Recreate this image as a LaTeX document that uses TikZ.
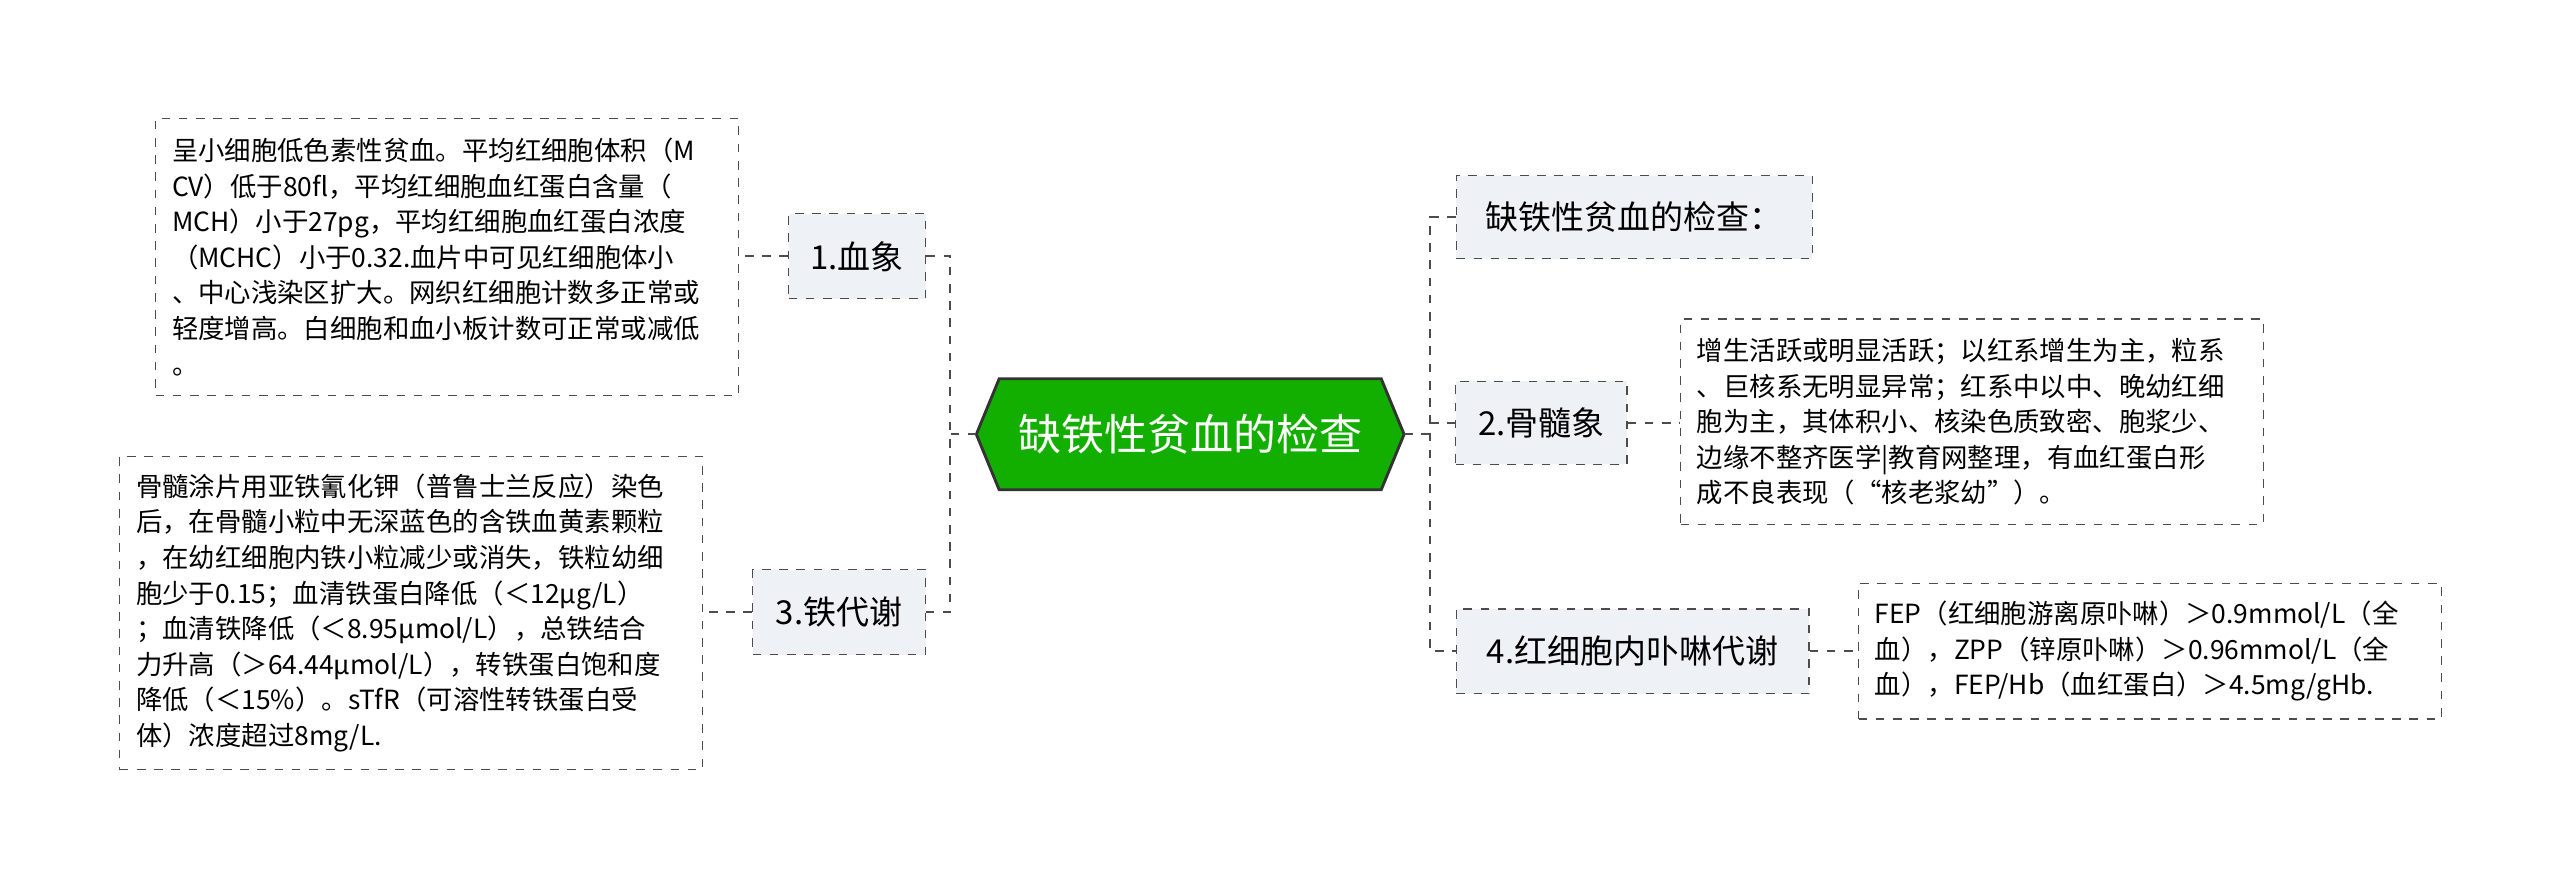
\documentclass[tikz,border=0pt]{standalone}
\usepackage{fontspec}
\setmainfont{Noto Sans CJK SC}
\definecolor{subfill}{HTML}{EEF1F5}
\begin{document}
\begin{tikzpicture}[x=0.02cm,y=-0.02cm,
  conn/.style={draw=black!70,dashed,line width=0.7pt},
  sub/.style={draw=black!70,dashed,fill=subfill,font=\fontsize{11.5}{14}\selectfont,inner sep=0pt,anchor=center},
  leaf/.style={draw=black!70,dashed,align=left,font=\fontsize{9.2}{12.4}\selectfont,inner xsep=0.2cm,inner ysep=0pt,text width=6.74cm,anchor=north west}]
\useasboundingbox (0,0) rectangle (1568,544);
\fill[white] (0,0) rectangle (1568,544);
% center
\draw[fill=green!65!black!90!lime,draw=black!80,line width=1pt] (598,266)--(612,232)--(846,232)--(860,266)--(846,300)--(612,300)--cycle;
\node[text=white,font=\fontsize{15}{18}\selectfont] (c) at (729,266) {缺铁性贫血的检查};
\coordinate (cl) at (598,266); \coordinate (cr) at (860,266);
% subnodes
\node[sub,minimum width=84*0.02cm,minimum height=52*0.02cm] (n1) at (525,157) {1.血象};
\node[sub,minimum width=106*0.02cm,minimum height=52*0.02cm] (n3) at (514,375) {3.铁代谢};
\node[sub,minimum width=218*0.02cm,minimum height=51*0.02cm] (r0) at (1001,133) {缺铁性贫血的检查：};
\node[sub,minimum width=105*0.02cm,minimum height=51*0.02cm] (n2) at (944,259) {2.骨髓象};
\node[sub,minimum width=216*0.02cm,minimum height=52*0.02cm] (n4) at (1000,399) {4.红细胞内卟啉代谢};
% leaves
\node[leaf,minimum height=170*0.02cm] (t1) at (95,72) {呈小细胞低色素性贫血。平均红细胞体积（M\\CV）低于80fl，平均红细胞血红蛋白含量（\\MCH）小于27pg，平均红细胞血红蛋白浓度\\（MCHC）小于0.32.血片中可见红细胞体小\\、中心浅染区扩大。网织红细胞计数多正常或\\轻度增高。白细胞和血小板计数可正常或减低\\。};
\node[leaf,minimum height=192*0.02cm] (t3) at (73,279) {骨髓涂片用亚铁氰化钾（普鲁士兰反应）染色\\后，在骨髓小粒中无深蓝色的含铁血黄素颗粒\\，在幼红细胞内铁小粒减少或消失，铁粒幼细\\胞少于0.15；血清铁蛋白降低（＜12μg/L）\\；血清铁降低（＜8.95μmol/L），总铁结合\\力升高（＞64.44μmol/L），转铁蛋白饱和度\\降低（＜15\%）。sTfR（可溶性转铁蛋白受\\体）浓度超过8mg/L.};
\node[leaf,minimum height=126*0.02cm] (t2) at (1029,195) {增生活跃或明显活跃；以红系增生为主，粒系\\、巨核系无明显异常；红系中以中、晚幼红细\\胞为主，其体积小、核染色质致密、胞浆少、\\边缘不整齐医学|教育网整理，有血红蛋白形\\成不良表现（“核老浆幼”）。};
\node[leaf,minimum height=83*0.02cm] (t4) at (1138,357) {FEP（红细胞游离原卟啉）＞0.9mmol/L（全\\血），ZPP（锌原卟啉）＞0.96mmol/L（全\\血），FEP/Hb（血红蛋白）＞4.5mg/gHb.};
% connectors
\draw[conn] (cl) -- (582,266);
\draw[conn] (n1.east) -- (582,157) -- (582,375) -- (n3.east);
\draw[conn] (cr) -- (876,266);
\draw[conn] (r0.west) -- (876,133) -- (876,399) -- (n4.west);
\draw[conn] (876,259) -- (n2.west);
\draw[conn] (n1.west) -- (t1.east|-n1.west);
\draw[conn] (n3.west) -- (t3.east|-n3.west);
\draw[conn] (n2.east) -- (t2.west|-n2.east);
\draw[conn] (n4.east) -- (t4.west|-n4.east);
\end{tikzpicture}
\end{document}
